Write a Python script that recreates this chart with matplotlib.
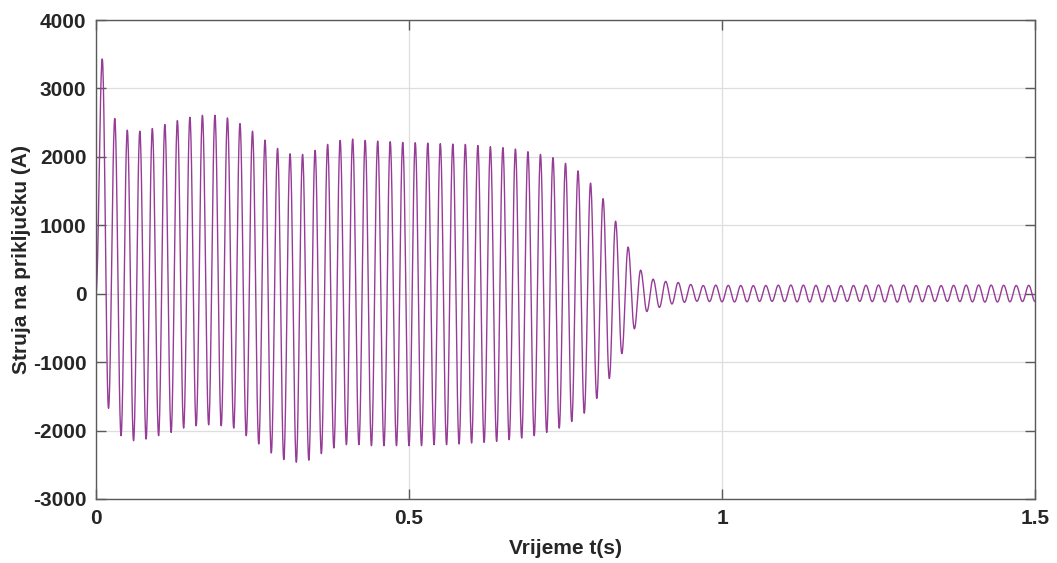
import numpy as np
import matplotlib
matplotlib.use("Agg")
import matplotlib.pyplot as plt

plt.rcParams['font.family'] = ['Liberation Sans', 'DejaVu Sans']
plt.rcParams['font.weight'] = 'bold'
plt.rcParams['axes.unicode_minus'] = False

# ---- data (current peaks per half-cycle, 50 Hz) ----
start_t = 0.0
start_val = 0.0

pos_peak_t = [round(0.01 + 0.02 * k, 2) for k in range(75)]
pos_peak_val = [
    3430, 2560, 2390, 2375, 2414, 2472, 2530, 2578, 2607, 2607,
    2569, 2486, 2375, 2245, 2124, 2045, 2036, 2095, 2182, 2240,
    2260, 2240, 2230, 2221, 2211, 2206, 2201, 2192, 2187, 2182,
    2165, 2148, 2134, 2114, 2075, 2036, 1988, 1906, 1795, 1616,
    1389, 1060, 682, 344, 213, 180, 164, 135, 120, 125,
    122, 120, 118, 120, 124, 126, 125, 122, 120, 118,
    120, 123, 126, 127, 125, 121, 118, 119, 122, 125,
    127, 126, 123, 120, 122,
]

neg_peak_t = [round(0.02 + 0.02 * k, 2) for k in range(75)]
neg_peak_val = [
    -1674, -2075, -2148, -2124, -2075, -2027, -1964, -1930, -1916, -1930,
    -1964, -2075, -2196, -2327, -2424, -2462, -2433, -2337, -2254, -2206,
    -2206, -2221, -2221, -2221, -2221, -2221, -2206, -2206, -2196, -2182,
    -2172, -2158, -2134, -2109, -2075, -2027, -1964, -1867, -1746, -1529,
    -1239, -876, -513, -260, -200, -150, -125, -110, -115, -118,
    -120, -117, -113, -112, -115, -119, -121, -120, -116, -112,
    -112, -115, -119, -122, -121, -117, -113, -112, -115, -119,
    -122, -121, -118, -114, -113,
]

x_ticks = [0, 0.5, 1, 1.5]
x_tick_labels = ['0', '0.5', '1', '1.5']
y_ticks = [-3000, -2000, -1000, 0, 1000, 2000, 3000, 4000]

# ---- build the waveform: smooth half-cycles between the read extrema ----
ext_t = [start_t]
ext_v = [start_val]
for tp, vp, tn, vn in zip(pos_peak_t, pos_peak_val, neg_peak_t, neg_peak_val):
    ext_t += [tp, tn]
    ext_v += [vp, vn]

tt, yy = [], []
s = np.linspace(0, 1, 24)[:-1]
for i in range(len(ext_t) - 1):
    a, b = ext_v[i], ext_v[i + 1]
    tt.append(ext_t[i] + (ext_t[i + 1] - ext_t[i]) * s)
    yy.append(a + (b - a) * (1 - np.cos(np.pi * s)) / 2)
tt.append([ext_t[-1]])
yy.append([ext_v[-1]])
tt = np.concatenate(tt)
yy = np.concatenate(yy)

# ---- figure ----
fig = plt.figure(figsize=(10.57, 5.63), dpi=100)
ax = fig.add_axes([96 / 1057, 1 - 499 / 563, (1035 - 96) / 1057, (499 - 20) / 563])

ax.plot(tt, yy, color='#963c96', lw=1.0)

ax.set_xlim(0, 1.5)
ax.set_ylim(-3000, 4000)
ax.set_xticks(x_ticks)
ax.set_xticklabels(x_tick_labels)
ax.set_yticks(y_ticks)

ax.grid(True, color='#dedede', lw=0.9)
ax.set_axisbelow(True)

for sp in ax.spines.values():
    sp.set_color('#5a5a5a')
    sp.set_linewidth(1.0)

ax.tick_params(direction='in', length=7, width=1, colors='#5a5a5a',
               top=True, right=True, labelsize=15, labelcolor='#262626', pad=7)
for lab in ax.get_xticklabels() + ax.get_yticklabels():
    lab.set_fontweight('bold')

ax.set_xlabel('Vrijeme t(s)', fontsize=15, fontweight='bold', color='#262626', labelpad=8)
ax.set_ylabel('Struja na priključku (A)', fontsize=15, fontweight='bold', color='#262626', labelpad=1)

fig.savefig('out.png', dpi=100, facecolor='white')
